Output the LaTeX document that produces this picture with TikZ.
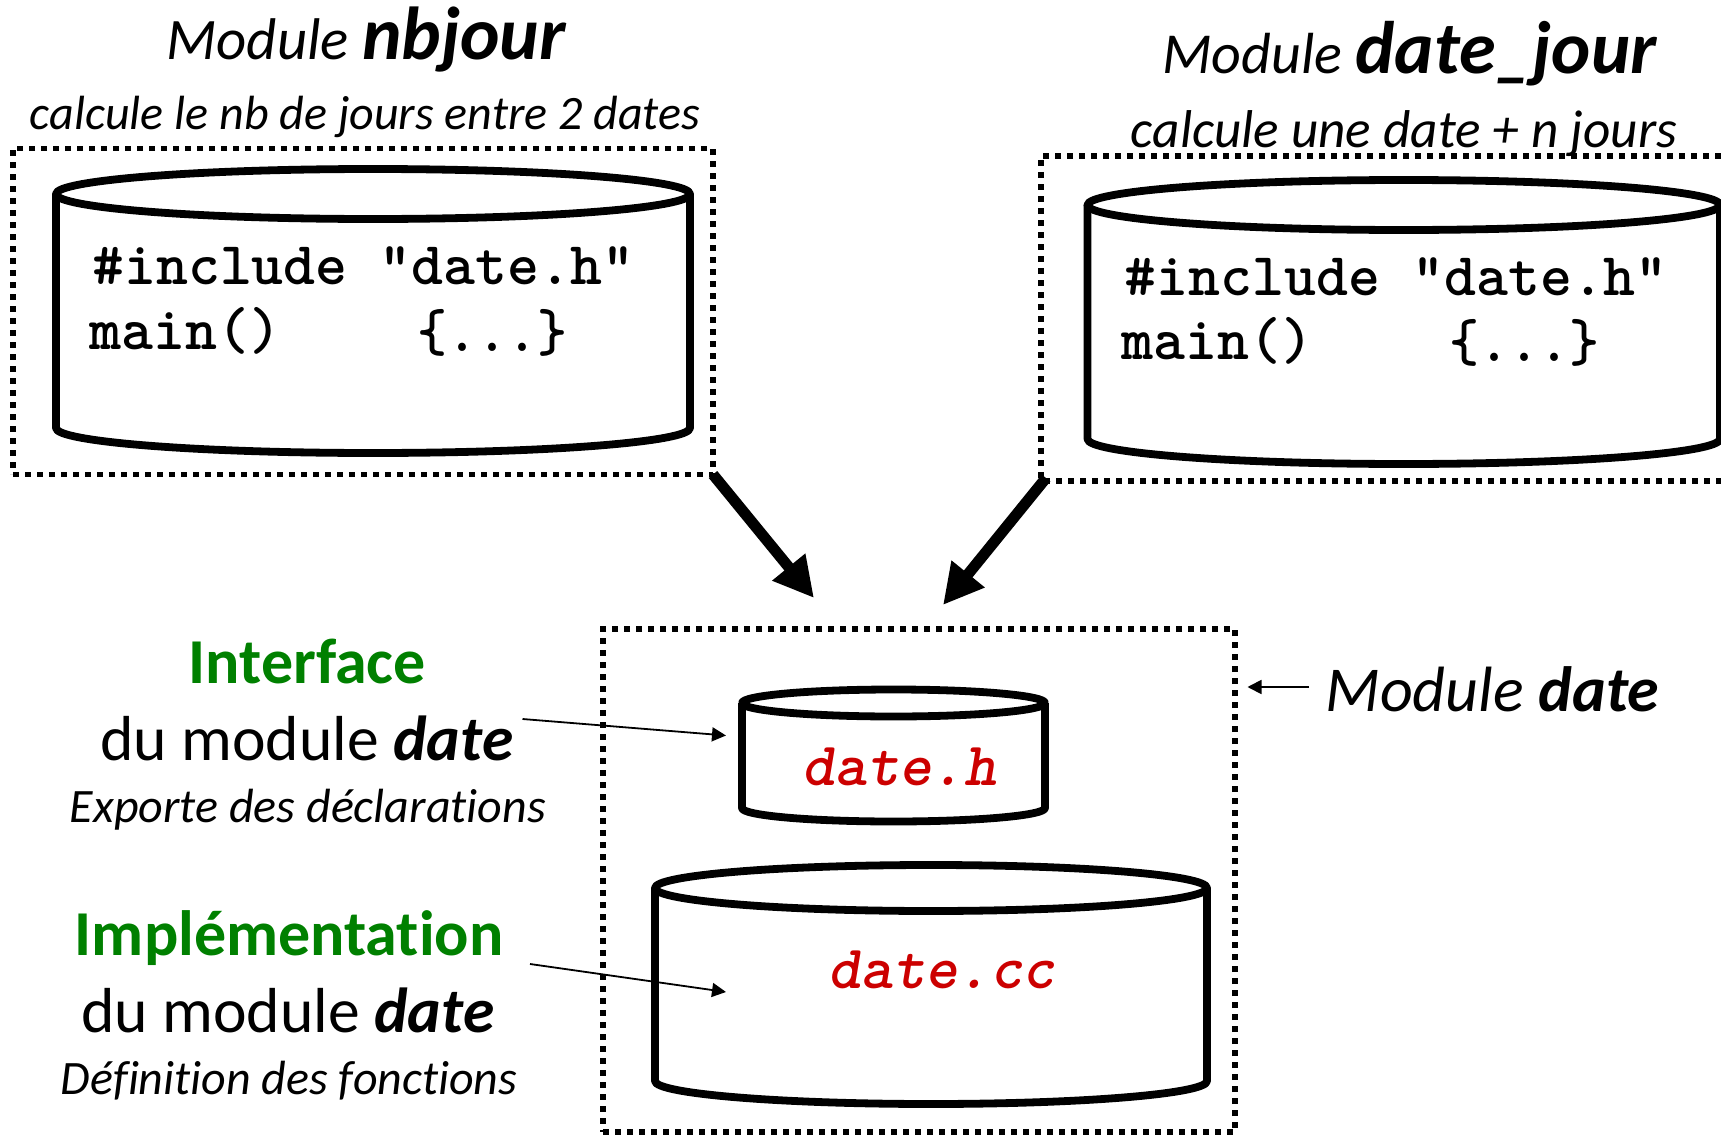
\documentclass[tikz,border=0pt]{standalone}
\usepackage{fontspec}
\usepackage{graphicx}
\setmainfont{Carlito}[Ligatures=NoCommon]
\usetikzlibrary{arrows.meta}
\definecolor{codered}{RGB}{204,0,0}
\definecolor{headgreen}{RGB}{0,128,0}
\newcommand{\fs}[1]{\fontsize{#1}{#1}\selectfont}
\newcommand{\cyl}[6]{% name x1 x2 ymid ry yend
  \pgfmathsetmacro{\rxv}{(#3-#2)/4}
  \pgfmathsetmacro{\ryv}{#5/2}
  \pgfmathsetmacro{\cxv}{(#2+#3)/2}
  \coordinate (#1) at (\cxv,#4);
  \draw[cylline,fill=white] (#2,#4) -- (#2,#6) arc[start angle=180,end angle=360,x radius=\rxv pt,y radius=\ryv pt] -- (#3,#4);
  \draw[cylline,fill=white] (#1) ellipse[x radius=\rxv pt,y radius=\ryv pt];
}
\tikzset{
  x=0.5pt,y=-0.5pt,
  cylline/.style={line width=3.9pt,line join=round},
  dotbox/.style={draw,line width=2.8pt,dash pattern=on 2.8pt off 3.2pt,inner sep=0pt,outer sep=0pt,anchor=north west},
  txt/.style={inner sep=0pt,anchor=base west},
  code/.style={txt,font=\ttfamily\bfseries\fs{30.4}\addfontfeature{FakeBold=3.2}},
  redcode/.style={txt,text=codered,font=\ttfamily\bfseries\itshape\fs{30.8}\addfontfeature{FakeBold=3.2}},
  bigarrow/.style={line width=5.5pt,-{Triangle[length=20pt,width=20pt]}},
  thinarrow/.style={line width=0.9pt,-{Triangle[length=7pt,width=7pt]}},
}
\begin{document}
\begin{tikzpicture}
\useasboundingbox (0,0) rectangle (1721,1135);
% dotted frames
\node[dotbox,minimum width=350pt,minimum height=163pt] (nbbox) at (13,148.5) {};
\node[dotbox,minimum width=316pt,minimum height=251.5pt] (datebox) at (603,629) {};
\coordinate (djne) at (1721,156);
\coordinate (djnw) at (1041,156);
\coordinate (djsw) at (1041,481);
\coordinate (djse) at (1721,481);
\draw[line width=2.8pt,dash pattern=on 2.8pt off 3.2pt] (djne) -- (djnw) -- (djsw) -- (djse);
% cylinders
\cyl{nbcyl}{56}{690}{194}{25}{428}{}
\cyl{djcyl}{1087.5}{1720}{205}{25}{439}{}
\cyl{hcyl}{742}{1045}{703}{13.5}{808}{}
\cyl{cccyl}{655}{1207}{888}{23}{1081}{}
% titles
\node[txt,font=\itshape\fs{29.4}] (t1) at (166,60) {Module \textbf{\fs{37.5}nbjour}};
\node[txt,font=\itshape\fs{24}] (s1) at (29.5,129) {calcule le nb de jours entre 2 dates};
\node[txt,font=\itshape\fs{29}] (t2) at (1162,73) {Module \textbf{\fs{37.2}date\_jour}};
\node[txt,font=\itshape\fs{26.6}] (s2) at (1130.5,147) {calcule une date + n jours};
% code
\node[code] (c1) at (92,284) {\#include};
\node[code] (c2) at (379,284) {"date.h"};
\node[code] (c3) at (89,349) {main()};
\node[code] (c4) at (417,351) {\scalebox{0.94}[1]{\{...\}}};
\node[code] (d1) at (1124.5,295) {\#include};
\node[code] (d2) at (1412,295) {"date.h"};
\node[code] (d3) at (1121,359) {main()};
\node[code] (d4) at (1449,361) {\scalebox{0.94}[1]{\{...\}}};
\node[redcode] (hname) at (802,785) {date.h};
\node[redcode] (ccname) at (828,988) {date.cc};
% left labels
\node[txt,text=headgreen,font=\bfseries\fs{32}] (l1) at (188.5,683) {Interface};
\node[txt,font=\fs{31.8}] (l2) at (100,760) {du module \textbf{\itshape date}};
\node[txt,font=\itshape\fs{24}] (l3) at (69.5,822) {Exporte des déclarations};
\node[txt,text=headgreen,font=\bfseries\fs{32}] (l4) at (74.5,955) {Implémentation};
\node[txt,font=\fs{31.8}] (l5) at (81,1032) {du module \textbf{\itshape date}};
\node[txt,font=\itshape\fs{24}] (l6) at (60.5,1094) {Définition des fonctions};
\node[txt,font=\itshape\fs{32}] (mdate) at (1325,711) {Module \textbf{date}};
% connectors
\coordinate (a1) at (814,598);
\coordinate (a2) at (943,605);
\coordinate (a3s) at (522.5,719);
\coordinate (a3e) at (726,735.5);
\coordinate (a4s) at (530,964);
\coordinate (a4e) at (726,992);
\coordinate (a5s) at (1309,687);
\coordinate (a5e) at (1247.5,687);
\draw[bigarrow] (nbbox.south east) -- (a1);
\draw[bigarrow] (djsw)++(5,-3) -- (a2);
\draw[thinarrow] (a3s) -- (a3e);
\draw[thinarrow] (a4s) -- (a4e);
\draw[thinarrow] (a5s) -- (a5e);
\end{tikzpicture}
\end{document}
